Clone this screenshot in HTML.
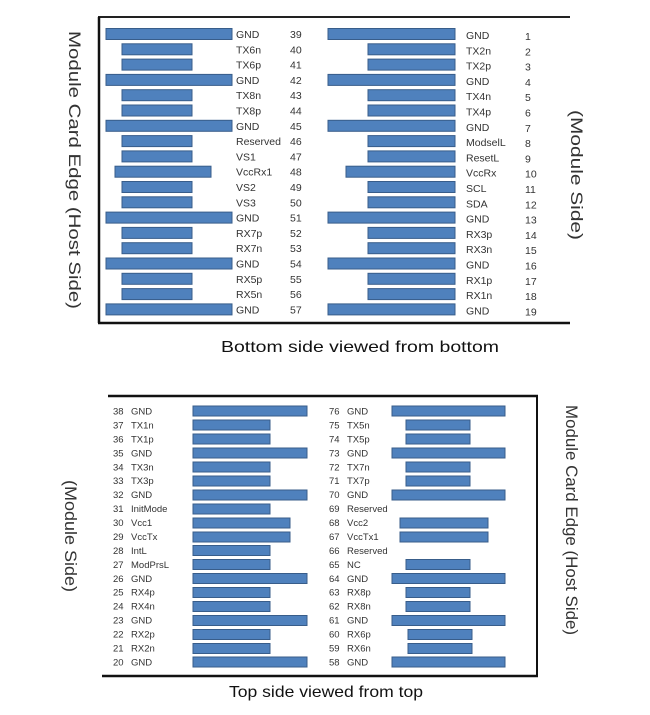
<!DOCTYPE html>
<html><head><meta charset="utf-8"><style>
html,body{margin:0;padding:0;background:#fff;}
svg{display:block;}
text{font-family:"Liberation Sans",sans-serif;fill:#333;}
.t{font-size:10.5px;}
.b{font-size:9.5px;}
rect.p{fill:#4f81bd;stroke:#385d8a;stroke-width:1;}
</style></head><body>
<svg width="650" height="715" viewBox="0 0 650 715">
<!-- top box -->
<line x1="98" y1="17" x2="570" y2="17" stroke="#222" stroke-width="2"/>
<line x1="99" y1="17" x2="99" y2="323" stroke="#111" stroke-width="2.5"/>
<line x1="98" y1="323" x2="570" y2="323" stroke="#111" stroke-width="2.5"/>
<text x="0" y="0" font-size="17" textLength="278" lengthAdjust="spacingAndGlyphs" transform="translate(69,31) rotate(90)">Module Card Edge (Host Side)</text>
<text x="0" y="0" font-size="17" textLength="130" lengthAdjust="spacingAndGlyphs" transform="translate(571,110) rotate(90)">(Module Side)</text>
<text x="221" y="352" font-size="16" textLength="278" lengthAdjust="spacingAndGlyphs" style="fill:#111">Bottom side viewed from bottom</text>
<g id="tl">
<rect class="p" x="106" y="28.5" width="126" height="11"/><text class="t" x="236" y="38">GND</text><text class="t" x="290" y="38">39</text>
<rect class="p" x="122" y="43.8" width="70" height="11"/><text class="t" x="236" y="53.3">TX6n</text><text class="t" x="290" y="53.3">40</text>
<rect class="p" x="122" y="59.1" width="70" height="11"/><text class="t" x="236" y="68.6">TX6p</text><text class="t" x="290" y="68.6">41</text>
<rect class="p" x="106" y="74.4" width="126" height="11"/><text class="t" x="236" y="83.9">GND</text><text class="t" x="290" y="83.9">42</text>
<rect class="p" x="122" y="89.7" width="70" height="11"/><text class="t" x="236" y="99.2">TX8n</text><text class="t" x="290" y="99.2">43</text>
<rect class="p" x="122" y="105" width="70" height="11"/><text class="t" x="236" y="114.5">TX8p</text><text class="t" x="290" y="114.5">44</text>
<rect class="p" x="106" y="120.3" width="126" height="11"/><text class="t" x="236" y="129.8">GND</text><text class="t" x="290" y="129.8">45</text>
<rect class="p" x="122" y="135.6" width="70" height="11"/><text class="t" x="236" y="145.1">Reserved</text><text class="t" x="290" y="145.1">46</text>
<rect class="p" x="122" y="150.9" width="70" height="11"/><text class="t" x="236" y="160.4">VS1</text><text class="t" x="290" y="160.4">47</text>
<rect class="p" x="115" y="166.2" width="96" height="11"/><text class="t" x="236" y="175.7">VccRx1</text><text class="t" x="290" y="175.7">48</text>
<rect class="p" x="122" y="181.5" width="70" height="11"/><text class="t" x="236" y="191">VS2</text><text class="t" x="290" y="191">49</text>
<rect class="p" x="122" y="196.8" width="70" height="11"/><text class="t" x="236" y="206.3">VS3</text><text class="t" x="290" y="206.3">50</text>
<rect class="p" x="106" y="212.1" width="126" height="11"/><text class="t" x="236" y="221.6">GND</text><text class="t" x="290" y="221.6">51</text>
<rect class="p" x="122" y="227.4" width="70" height="11"/><text class="t" x="236" y="236.9">RX7p</text><text class="t" x="290" y="236.9">52</text>
<rect class="p" x="122" y="242.7" width="70" height="11"/><text class="t" x="236" y="252.2">RX7n</text><text class="t" x="290" y="252.2">53</text>
<rect class="p" x="106" y="258" width="126" height="11"/><text class="t" x="236" y="267.5">GND</text><text class="t" x="290" y="267.5">54</text>
<rect class="p" x="122" y="273.3" width="70" height="11"/><text class="t" x="236" y="282.8">RX5p</text><text class="t" x="290" y="282.8">55</text>
<rect class="p" x="122" y="288.6" width="70" height="11"/><text class="t" x="236" y="298.1">RX5n</text><text class="t" x="290" y="298.1">56</text>
<rect class="p" x="106" y="303.9" width="126" height="11"/><text class="t" x="236" y="313.4">GND</text><text class="t" x="290" y="313.4">57</text>
</g>
<g>
<rect class="p" x="328" y="28.5" width="127" height="11"/><text class="t" x="466" y="39">GND</text><text class="t" x="525" y="40">1</text>
<rect class="p" x="368" y="43.8" width="87" height="11"/><text class="t" x="466" y="54.3">TX2n</text><text class="t" x="525" y="55.3">2</text>
<rect class="p" x="368" y="59.1" width="87" height="11"/><text class="t" x="466" y="69.6">TX2p</text><text class="t" x="525" y="70.6">3</text>
<rect class="p" x="328" y="74.4" width="127" height="11"/><text class="t" x="466" y="84.9">GND</text><text class="t" x="525" y="85.9">4</text>
<rect class="p" x="368" y="89.7" width="87" height="11"/><text class="t" x="466" y="100.2">TX4n</text><text class="t" x="525" y="101.2">5</text>
<rect class="p" x="368" y="105" width="87" height="11"/><text class="t" x="466" y="115.5">TX4p</text><text class="t" x="525" y="116.5">6</text>
<rect class="p" x="328" y="120.3" width="127" height="11"/><text class="t" x="466" y="130.8">GND</text><text class="t" x="525" y="131.8">7</text>
<rect class="p" x="368" y="135.6" width="87" height="11"/><text class="t" x="466" y="146.1">ModselL</text><text class="t" x="525" y="147.1">8</text>
<rect class="p" x="368" y="150.9" width="87" height="11"/><text class="t" x="466" y="161.4">ResetL</text><text class="t" x="525" y="162.4">9</text>
<rect class="p" x="346" y="166.2" width="109" height="11"/><text class="t" x="466" y="176.7">VccRx</text><text class="t" x="525" y="177.7">10</text>
<rect class="p" x="368" y="181.5" width="87" height="11"/><text class="t" x="466" y="192">SCL</text><text class="t" x="525" y="193">11</text>
<rect class="p" x="368" y="196.8" width="87" height="11"/><text class="t" x="466" y="207.3">SDA</text><text class="t" x="525" y="208.3">12</text>
<rect class="p" x="328" y="212.1" width="127" height="11"/><text class="t" x="466" y="222.6">GND</text><text class="t" x="525" y="223.6">13</text>
<rect class="p" x="368" y="227.4" width="87" height="11"/><text class="t" x="466" y="237.9">RX3p</text><text class="t" x="525" y="238.9">14</text>
<rect class="p" x="368" y="242.7" width="87" height="11"/><text class="t" x="466" y="253.2">RX3n</text><text class="t" x="525" y="254.2">15</text>
<rect class="p" x="328" y="258" width="127" height="11"/><text class="t" x="466" y="268.5">GND</text><text class="t" x="525" y="269.5">16</text>
<rect class="p" x="368" y="273.3" width="87" height="11"/><text class="t" x="466" y="283.8">RX1p</text><text class="t" x="525" y="284.8">17</text>
<rect class="p" x="368" y="288.6" width="87" height="11"/><text class="t" x="466" y="299.1">RX1n</text><text class="t" x="525" y="300.1">18</text>
<rect class="p" x="328" y="303.9" width="127" height="11"/><text class="t" x="466" y="314.4">GND</text><text class="t" x="525" y="315.4">19</text>
</g>

<!-- bottom box -->
<line x1="108" y1="396" x2="538" y2="396" stroke="#111" stroke-width="2.5"/>
<line x1="537" y1="396" x2="537" y2="677" stroke="#111" stroke-width="2"/>
<line x1="102" y1="676" x2="538" y2="676" stroke="#111" stroke-width="2.5"/>
<text x="0" y="0" font-size="17" textLength="112" lengthAdjust="spacingAndGlyphs" transform="translate(65,480) rotate(90)">(Module Side)</text>
<text x="0" y="0" font-size="17" textLength="230" lengthAdjust="spacingAndGlyphs" transform="translate(566,405) rotate(90)">Module Card Edge (Host Side)</text>
<text x="229" y="697" font-size="16" textLength="194" lengthAdjust="spacingAndGlyphs" style="fill:#111">Top side viewed from top</text>
<g>
<text class="b" x="113" y="414.5">38</text><text class="b" x="131" y="414.5">GND</text><rect class="p" x="193" y="406" width="114" height="10"/>
<text class="b" x="113" y="428.4">37</text><text class="b" x="131" y="428.4">TX1n</text><rect class="p" x="193" y="420" width="77" height="10"/>
<text class="b" x="113" y="442.4">36</text><text class="b" x="131" y="442.4">TX1p</text><rect class="p" x="193" y="434" width="77" height="10"/>
<text class="b" x="113" y="456.3">35</text><text class="b" x="131" y="456.3">GND</text><rect class="p" x="193" y="448" width="114" height="10"/>
<text class="b" x="113" y="470.3">34</text><text class="b" x="131" y="470.3">TX3n</text><rect class="p" x="193" y="462" width="77" height="10"/>
<text class="b" x="113" y="484.2">33</text><text class="b" x="131" y="484.2">TX3p</text><rect class="p" x="193" y="476" width="77" height="10"/>
<text class="b" x="113" y="498.1">32</text><text class="b" x="131" y="498.1">GND</text><rect class="p" x="193" y="490" width="114" height="10"/>
<text class="b" x="113" y="512.1">31</text><text class="b" x="131" y="512.1">InitMode</text><rect class="p" x="193" y="504" width="77" height="10"/>
<text class="b" x="113" y="526">30</text><text class="b" x="131" y="526">Vcc1</text><rect class="p" x="193" y="518" width="97" height="10"/>
<text class="b" x="113" y="540">29</text><text class="b" x="131" y="540">VccTx</text><rect class="p" x="193" y="532" width="97" height="10"/>
<text class="b" x="113" y="553.9">28</text><text class="b" x="131" y="553.9">IntL</text><rect class="p" x="193" y="545.5" width="77" height="10"/>
<text class="b" x="113" y="567.8">27</text><text class="b" x="131" y="567.8">ModPrsL</text><rect class="p" x="193" y="559.5" width="77" height="10"/>
<text class="b" x="113" y="581.8">26</text><text class="b" x="131" y="581.8">GND</text><rect class="p" x="193" y="573.5" width="114" height="10"/>
<text class="b" x="113" y="595.7">25</text><text class="b" x="131" y="595.7">RX4p</text><rect class="p" x="193" y="587.5" width="77" height="10"/>
<text class="b" x="113" y="609.7">24</text><text class="b" x="131" y="609.7">RX4n</text><rect class="p" x="193" y="601.5" width="77" height="10"/>
<text class="b" x="113" y="623.6">23</text><text class="b" x="131" y="623.6">GND</text><rect class="p" x="193" y="615.5" width="114" height="10"/>
<text class="b" x="113" y="637.5">22</text><text class="b" x="131" y="637.5">RX2p</text><rect class="p" x="193" y="629.5" width="77" height="10"/>
<text class="b" x="113" y="651.5">21</text><text class="b" x="131" y="651.5">RX2n</text><rect class="p" x="193" y="643.5" width="77" height="10"/>
<text class="b" x="113" y="665.4">20</text><text class="b" x="131" y="665.4">GND</text><rect class="p" x="193" y="657" width="114" height="10"/>
</g>
<g>
<text class="b" x="329" y="414.5">76</text><text class="b" x="347" y="414.5">GND</text><rect class="p" x="392" y="406" width="113" height="10"/>
<text class="b" x="329" y="428.4">75</text><text class="b" x="347" y="428.4">TX5n</text><rect class="p" x="406" y="420" width="64" height="10"/>
<text class="b" x="329" y="442.4">74</text><text class="b" x="347" y="442.4">TX5p</text><rect class="p" x="406" y="434" width="64" height="10"/>
<text class="b" x="329" y="456.3">73</text><text class="b" x="347" y="456.3">GND</text><rect class="p" x="392" y="448" width="113" height="10"/>
<text class="b" x="329" y="470.3">72</text><text class="b" x="347" y="470.3">TX7n</text><rect class="p" x="406" y="462" width="64" height="10"/>
<text class="b" x="329" y="484.2">71</text><text class="b" x="347" y="484.2">TX7p</text><rect class="p" x="406" y="476" width="64" height="10"/>
<text class="b" x="329" y="498.1">70</text><text class="b" x="347" y="498.1">GND</text><rect class="p" x="392" y="490" width="113" height="10"/>
<text class="b" x="329" y="512.1">69</text><text class="b" x="347" y="512.1">Reserved</text>
<text class="b" x="329" y="526">68</text><text class="b" x="347" y="526">Vcc2</text><rect class="p" x="400" y="518" width="88" height="10"/>
<text class="b" x="329" y="540">67</text><text class="b" x="347" y="540">VccTx1</text><rect class="p" x="400" y="532" width="88" height="10"/>
<text class="b" x="329" y="553.9">66</text><text class="b" x="347" y="553.9">Reserved</text>
<text class="b" x="329" y="567.8">65</text><text class="b" x="347" y="567.8">NC</text><rect class="p" x="406" y="559.5" width="64" height="10"/>
<text class="b" x="329" y="581.8">64</text><text class="b" x="347" y="581.8">GND</text><rect class="p" x="392" y="573.5" width="113" height="10"/>
<text class="b" x="329" y="595.7">63</text><text class="b" x="347" y="595.7">RX8p</text><rect class="p" x="406" y="587.5" width="64" height="10"/>
<text class="b" x="329" y="609.7">62</text><text class="b" x="347" y="609.7">RX8n</text><rect class="p" x="406" y="601.5" width="64" height="10"/>
<text class="b" x="329" y="623.6">61</text><text class="b" x="347" y="623.6">GND</text><rect class="p" x="392" y="615.5" width="113" height="10"/>
<text class="b" x="329" y="637.5">60</text><text class="b" x="347" y="637.5">RX6p</text><rect class="p" x="408" y="629.5" width="64" height="10"/>
<text class="b" x="329" y="651.5">59</text><text class="b" x="347" y="651.5">RX6n</text><rect class="p" x="408" y="643.5" width="64" height="10"/>
<text class="b" x="329" y="665.4">58</text><text class="b" x="347" y="665.4">GND</text><rect class="p" x="392" y="657" width="113" height="10"/>
</g>
</svg>
</body></html>
